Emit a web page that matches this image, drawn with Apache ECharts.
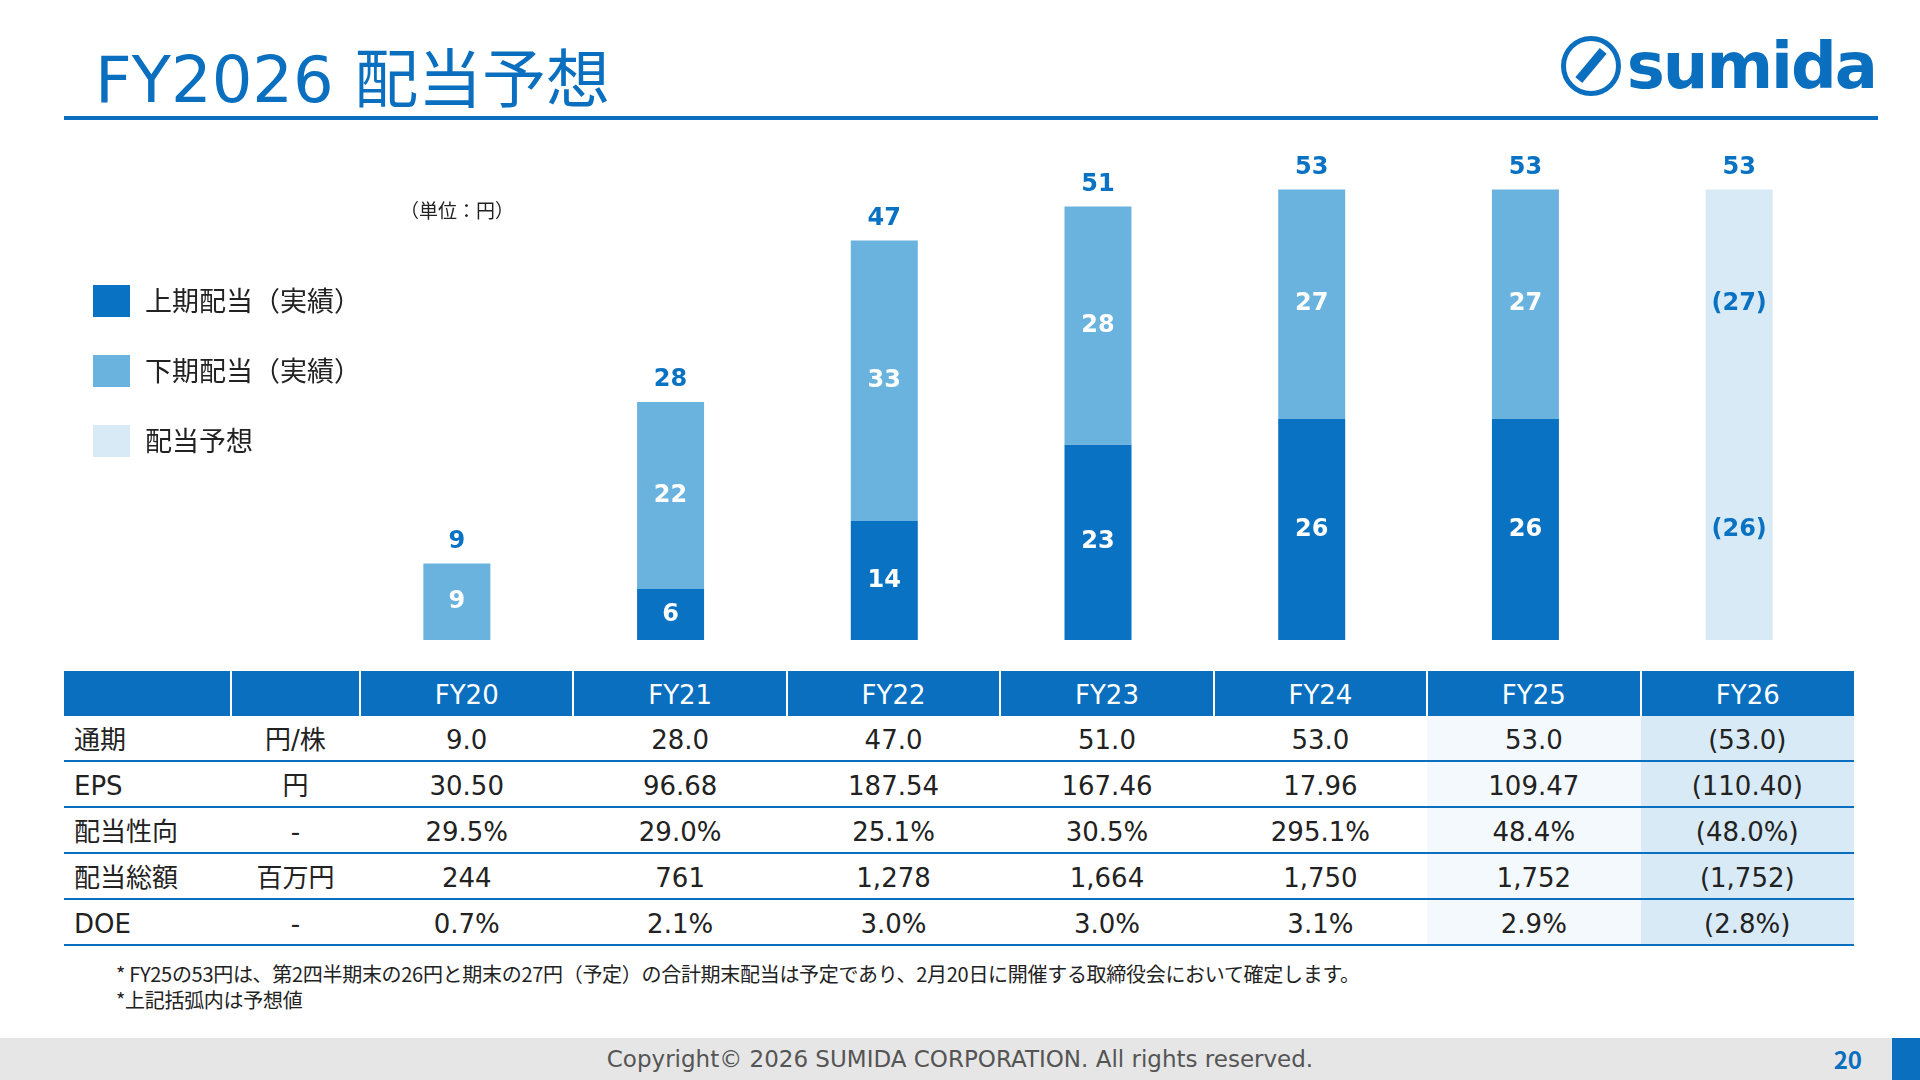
<!DOCTYPE html>
<html lang="ja">
<head>
<meta charset="UTF-8">
<title>FY2026 配当予想</title>
<script src="https://cdn.jsdelivr.net/npm/echarts@6/dist/echarts.min.js"></script>
<style>
  body { margin:0; width:1920px; height:1080px; position:relative; overflow:hidden; background:#fff;
         font-family:"Noto Sans CJK JP","Noto Sans",sans-serif; color:#222; }
  #title { position:absolute; left:95px; top:28px; font-size:64px; color:#0a6fbf; font-family:"DejaVu Sans","Noto Sans CJK JP",sans-serif; }
  #rule { position:absolute; left:64px; top:116px; width:1814px; height:4px; background:#0a6fbf; }
  #logo { position:absolute; right:44px; top:34px; display:flex; align-items:center; color:#0a6fbf; }
  #logo .mark { width:50px; height:50px; border:5px solid #0a6fbf; border-radius:50%; position:relative; margin-right:6px; }
  #logo .mark:after { content:""; position:absolute; left:6px; top:20px; width:38px; height:9px; background:#0a6fbf; transform:rotate(-50deg); }
  #logo .txt { font-family:"DejaVu Sans",sans-serif; font-weight:bold; font-size:64px; letter-spacing:-2px; line-height:1; }
  #chart { position:absolute; left:0; top:130px; width:1920px; height:530px; }
  #unit { position:absolute; left:400px; top:196px; font-size:19px; }
  table { position:absolute; left:64px; top:671px; width:1790px; table-layout:fixed; border-collapse:collapse; font-size:26px;
          font-family:"DejaVu Sans","Noto Sans CJK JP",sans-serif; }
  td { height:44px; line-height:44px; padding:0; text-align:center; vertical-align:middle; border-bottom:2px solid #0a6fbf; }
  td span { display:inline-block; line-height:30px; vertical-align:middle; }
  thead td { background:#0a6fbf; color:#fff; height:45px; border-bottom:none; border-left:2px solid #fff; }
  thead td:first-child { border-left:none; }
  td.name { text-align:left; padding-left:10px; }
  td.fy25 { background:#f4f9fd; }
  td.fy26 { background:#d8eaf6; }
  #notes { position:absolute; left:116px; top:961px; font-size:20px; line-height:26px; letter-spacing:-0.3px; }
  #footer { position:absolute; left:0; top:1038px; width:1920px; height:42px; background:#e6e6e6;
            font-size:23px; color:#555; text-align:center; line-height:42px; font-family:"DejaVu Sans",sans-serif; }
  #page { position:absolute; right:58px; top:1038px; line-height:42px; font-size:24px; font-weight:bold; color:#0a6fbf; }
  #corner { position:absolute; right:0; top:1038px; width:28px; height:42px; background:#0a6fbf; }
</style>
</head>
<body>
<div id="title">FY2026 配当予想</div>
<div id="logo"><div class="mark"></div><div class="txt">sumida</div></div>
<div id="rule"></div>
<div id="chart"></div>
<div id="unit">（単位：円）</div>
<table id="tbl"></table>
<div id="notes">* FY25の53円は、第2四半期末の26円と期末の27円（予定）の合計期末配当は予定であり、2月20日に開催する取締役会において確定します。<br>*上記括弧内は予想値</div>
<div id="footer">Copyright© 2026 SUMIDA CORPORATION. All rights reserved.</div>
<div id="page">20</div>
<div id="corner"></div>
<script>
const years = ['FY20', 'FY21', 'FY22', 'FY23', 'FY24', 'FY25', 'FY26'];
const firstHalf = [null, 6, 14, 23, 26, 26, null];
const secondHalf = [9, 22, 33, 28, 27, 27, null];
const forecastFirst = [null, null, null, null, null, null, 26];
const forecastSecond = [null, null, null, null, null, null, 27];
const totals = [9, 28, 47, 51, 53, 53, 53];

const rowNames = ['通期', 'EPS', '配当性向', '配当総額', 'DOE'];
const rowUnits = ['円/株', '円', '-', '百万円', '-'];
const rowAnnual = ['9.0', '28.0', '47.0', '51.0', '53.0', '53.0', '(53.0)'];
const rowEps = ['30.50', '96.68', '187.54', '167.46', '17.96', '109.47', '(110.40)'];
const rowPayout = ['29.5%', '29.0%', '25.1%', '30.5%', '295.1%', '48.4%', '(48.0%)'];
const rowTotal = ['244', '761', '1,278', '1,664', '1,750', '1,752', '(1,752)'];
const rowDoe = ['0.7%', '2.1%', '3.0%', '3.0%', '3.1%', '2.9%', '(2.8%)'];
const rows = [rowAnnual, rowEps, rowPayout, rowTotal, rowDoe];

// table
const cell = (v, cls) => '<td class="' + (cls || '') + '"><span>' + v + '</span></td>';
let html = '<thead><tr><td style="width:166px"></td><td style="width:127px"></td>' +
  years.map(y => cell(y)).join('') + '</tr></thead><tbody>';
rows.forEach((r, i) => {
  html += '<tr>' + cell(rowNames[i], 'name') + cell(rowUnits[i]) +
    r.map((v, j) => cell(v, j === 5 ? 'fy25' : j === 6 ? 'fy26' : '')).join('') + '</tr>';
});
document.getElementById('tbl').innerHTML = html + '</tbody>';

const DARK = '#0a72c2', LIGHT = '#6ab3de', FORE = '#d8eaf6';
const inLabel = { show: true, color: '#fff', fontSize: 24, fontWeight: 'bold', fontFamily: 'Verdana, DejaVu Sans, sans-serif' };
const foreLabel = { show: true, color: '#0a72c2', fontSize: 24, fontWeight: 'bold', fontFamily: 'Verdana, DejaVu Sans, sans-serif',
  formatter: p => '(' + p.value + ')' };

const chart = echarts.init(document.getElementById('chart'));
chart.setOption({
  animation: false,
  grid: { left: 350, right: 74, top: 0, bottom: 530 - 510 },
  legend: {
    orient: 'vertical', left: 88, top: 150, itemWidth: 37, itemHeight: 32, itemGap: 38,
    icon: 'rect', textStyle: { fontSize: 27, color: '#222', fontFamily: 'Noto Sans CJK JP', padding: [0, 0, 0, 10] },
    data: ['上期配当（実績）', '下期配当（実績）', '配当予想']
  },
  xAxis: { type: 'category', data: years, axisLine: { show: false }, axisTick: { show: false }, axisLabel: { show: false } },
  yAxis: { type: 'value', min: 0, max: 60, show: false, splitLine: { show: false } },
  series: [
    { name: '上期配当（実績）', type: 'bar', stack: 'a', barWidth: 67, data: firstHalf, itemStyle: { color: DARK }, label: inLabel },
    { name: '下期配当（実績）', type: 'bar', stack: 'a', data: secondHalf, itemStyle: { color: LIGHT }, label: inLabel },
    { name: '配当予想', type: 'bar', stack: 'a', data: forecastFirst, itemStyle: { color: FORE }, label: foreLabel },
    { name: '配当予想', type: 'bar', stack: 'a', data: forecastSecond, itemStyle: { color: FORE }, label: foreLabel },
    { name: 'total', type: 'bar', stack: 'a', data: totals.map(() => 0), itemStyle: { color: 'transparent' },
      label: { show: true, position: 'top', distance: 10, color: DARK, fontSize: 24, fontWeight: 'bold',
        fontFamily: 'Verdana, DejaVu Sans, sans-serif', formatter: p => totals[p.dataIndex] } }
  ]
});
</script>
</body>
</html>
